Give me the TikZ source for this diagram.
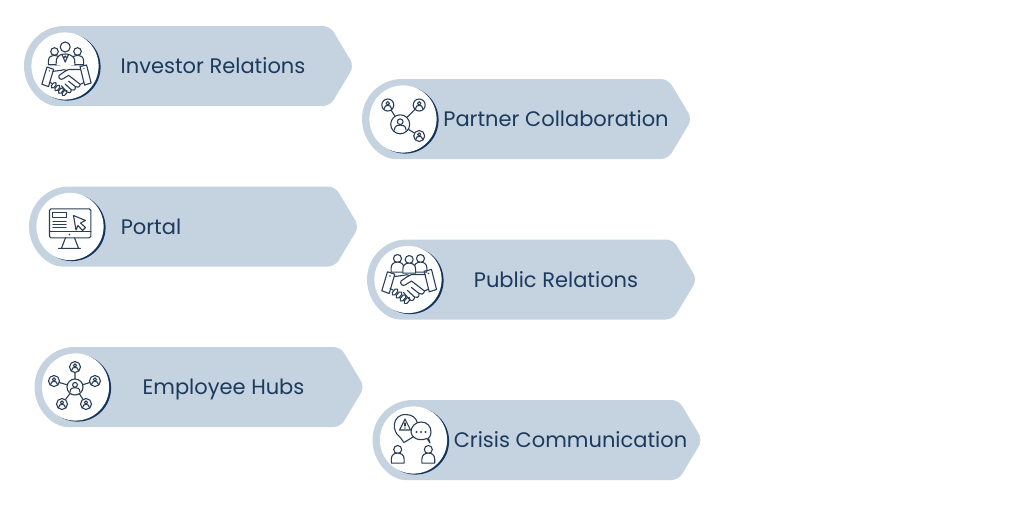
\documentclass[tikz,border=0pt]{standalone}
\usepackage{fontspec}
\setmainfont{Poppins}
\definecolor{bandcol}{HTML}{C5D3E1}
\definecolor{navy}{HTML}{1B3A5C}
\definecolor{crescent}{HTML}{12355B}
\definecolor{inkcol}{HTML}{2A3F55}
\tikzset{
  x=1pt,y=-1pt,
  band/.style={fill=bandcol,draw=none},
  disc/.style={fill=white,draw=none},
  moon/.style={fill=crescent,draw=none},
  ic/.style={draw=inkcol,line width=1.1pt,line join=round,line cap=round},
  lab/.style={text=navy,font=\fontsize{21}{24}\selectfont,inner sep=0pt,anchor=base},
  pr/.pic={
    \draw[ic,fill=white] (0,0) circle (#1);
    \draw[ic] (0,{-.27*#1}) circle ({.3*#1});
    \draw[ic] ({-.62*#1},{.62*#1}) .. controls ({-.6*#1},{.12*#1}) and ({-.25*#1},{.08*#1}) .. (0,{.08*#1})
       .. controls ({.25*#1},{.08*#1}) and ({.6*#1},{.12*#1}) .. ({.62*#1},{.62*#1});
  },
  folk/.pic={
    \draw[ic,fill=white] (0,-6) circle (#1);
    \draw[ic,fill=white] ({-1.6*#1},{#1*1.9}) -- ({-1.6*#1},{#1*.9})
       .. controls ({-1.6*#1},{-.2*#1}) and ({-.8*#1},{-.6*#1}) .. (0,{-.6*#1})
       .. controls ({.8*#1},{-.6*#1}) and ({1.6*#1},{-.2*#1}) .. ({1.6*#1},{#1*.9})
       -- ({1.6*#1},{#1*1.9}) -- cycle;
  },
  shake/.pic={
    \draw[ic] (-20,-7.7) -- (-12.7,-5.3) -- (-18.3,14) -- (-25.7,11.3) -- cycle;
    \draw[ic] (16.7,-8.3) -- (24,-10) -- (29,10) -- (21.7,12.3) -- cycle;
    \fill[inkcol] (-17.5,-3.5) circle (.8) (21,-6) circle (.8);
    \draw[ic] (-13,-3) -- (-5,-4) .. controls (-2,-5) and (0,-5) .. (2,-4);
    \draw[ic] (17.3,-5) -- (8,-5) .. controls (5,-5.5) and (3,-5) .. (0,-3) -- (-6.5,1.5)
       .. controls (-8,4) and (-5,7) .. (-2.5,5.5) -- (4,1.5) -- (17,11.5);
    \draw[ic] (21,9.5) -- (17,11.5) .. controls (16.5,15) and (13,15.5) .. (11.5,14)
       .. controls (12,18) and (9,19) .. (7,17.5)
       .. controls (7,21) and (4,22) .. (2,20)
       .. controls (1,22.5) and (-1,23) .. (-3,21.5);
    \draw[ic] (-17.5,9) -- (-14.5,10.5);
    \foreach \fx/\fy in {-12.5/12.5,-8.5/15.5,-4.5/18.5,-.5/21}{
      \draw[ic,fill=white,rounded corners=1.5,shift={(\fx,\fy)},rotate=-40] (-1.8,-3.6) rectangle (1.8,3.6);
    }
    \draw[ic] (4,8) -- (11.5,14) (0,11) -- (7,17.5) (-4,13) -- (2,20);
  },
  iconinvest/.pic={
    \pic at (-10,-8.5) {folk=3.8};
    \pic at (13,-8.5) {folk=3.8};
    \draw[ic,fill=white] (.7,-19) circle (5);
    \draw[ic,fill=white] (-8.5,-1) -- (-8,-7) .. controls (-6,-11) and (-3,-12) .. (.7,-12)
       .. controls (4,-12) and (8,-11) .. (10,-7) -- (10.5,-1);
    \draw[ic] (-2.5,-11.5) -- (.7,-4) -- (4,-11.5) (-.8,-8) -- (.7,-10) -- (2.2,-8);
    \pic[scale=.9] at (.5,8) {shake};
  },
  iconpartner/.pic={
    \coordinate (hub) at (-2.3,5.3);
    \coordinate (na) at (-14.7,-14);
    \coordinate (nb) at (16.7,-14);
    \coordinate (nc) at (16.7,17);
    \draw[ic] (hub) -- (na) (hub) -- (nb) (hub) -- (nc);
    \pic at (hub) {pr=9.5};
    \pic at (na) {pr=6};
    \pic at (nb) {pr=6};
    \pic at (nc) {pr=5.5};
  },
  iconportal/.pic={
    \draw[ic,rounded corners=1.5] (-20,-17.7) rectangle (21.3,11.3);
    \draw[ic] (-20,4.7) -- (21.3,4.7);
    \fill[inkcol] (0,8) circle (.9);
    \draw[ic] (-4,11.3) -- (-8,21.7) (5,11.3) -- (9,21.7) (-11,21.9) -- (11,21.9);
    \draw[ic] (-16.7,-14.3) rectangle (-3.3,-8.7);
    \draw[ic] (-16.7,-5.3) -- (-3.3,-5.3) (-16.7,-2) -- (-3.3,-2) (-16.7,1.3) -- (-3.3,1.3);
    \draw[ic] (4,-11) -- (16,-6) -- (11,-3.5) -- (16,1) -- (13,4) -- (8.5,-1) -- (6.5,3.5) -- cycle;
  },
  iconpublic/.pic={
    \pic at (-10,-15) {folk=4};
    \pic at (13,-15) {folk=4};
    \pic at (1.7,-14) {folk=4};
    \pic at (0,0) {shake};
  },
  iconhubs/.pic={
    \coordinate (core) at (0,0);
    \coordinate (sa) at (0,-20);
    \coordinate (sb) at (-21,-6);
    \coordinate (sc) at (20,-6);
    \coordinate (sd) at (-13,17);
    \coordinate (se) at (11,17);
    \draw[ic] (core) -- (sa) (core) -- (sb) (core) -- (sc) (core) -- (sd) (core) -- (se);
    \pic at (core) {pr=8};
    \pic at (sa) {pr=5.5};
    \pic at (sb) {pr=5.5};
    \pic at (sc) {pr=5.5};
    \pic at (sd) {pr=5.5};
    \pic at (se) {pr=5.5};
  },
  iconcrisis/.pic={
    \draw[ic,fill=white] (-13.5,-3.5) .. controls (-21,-8) and (-21.5,-25.5) .. (-7.3,-25.5)
       .. controls (6,-25.5) and (8,-11) .. (0,-3) -- (-9,2.5) -- cycle;
    \draw[ic] (-8,-21) -- (-13.5,-10) -- (-2.5,-10) -- cycle;
    \draw[ic] (-8,-17) -- (-8,-14) (-8,-12) -- (-8,-11.9);
    \draw[ic,fill=white] (17,3) -- (14,-1.5) .. controls (5,2) and (-2,-3) .. (-2,-8)
       .. controls (-2,-14) and (3,-18) .. (8,-18)
       .. controls (14,-18) and (18,-14) .. (18,-8)
       .. controls (18,-5) and (17,-3) .. (15.5,-2) -- cycle;
    \fill[inkcol] (3.5,-8) circle (1.1) (8,-8) circle (1.1) (12.5,-8) circle (1.1);
    \pic at (-15.3,15.5) {folk=4};
    \pic at (15.3,15.5) {folk=4};
  },
}
% #1 name, #2 left, #3 centre y, #4 icon, #5 label x, #6 label
\newcommand{\tagrow}[6]{
  \path[band,rounded corners=7] (#2+40,#3-40) -- (#2+306,#3-40) -- (#2+330,#3) -- (#2+306,#3+40)
     -- (#2+40,#3+40) [sharp corners] arc[start angle=90,end angle=270,radius=40] -- cycle;
  \path[moon] (#2+43,#3+1) circle (33.6);
  \path[disc] (#2+41,#3) circle (33.6);
  \pic at (#2+40.5,#3) {#4};
  \node[lab] (#1) at (#5,#3+7.9) {#6};
}
\begin{document}
\begin{tikzpicture}
\useasboundingbox[fill=white] (0,0) rectangle (1024,507);
\tagrow{investor}{24}{66}{iconinvest}{213}{Investor Relations}
\tagrow{partner}{362}{119}{iconpartner}{556}{Partner Collaboration}
\tagrow{portal}{29}{226.5}{iconportal}{151}{Portal}
\tagrow{public}{367}{279.5}{iconpublic}{556}{Public Relations}
\tagrow{hubs}{34.5}{387}{iconhubs}{223.5}{Employee Hubs}
\tagrow{crisis}{372.5}{440}{iconcrisis}{570.5}{Crisis Communication}
\end{tikzpicture}
\end{document}
